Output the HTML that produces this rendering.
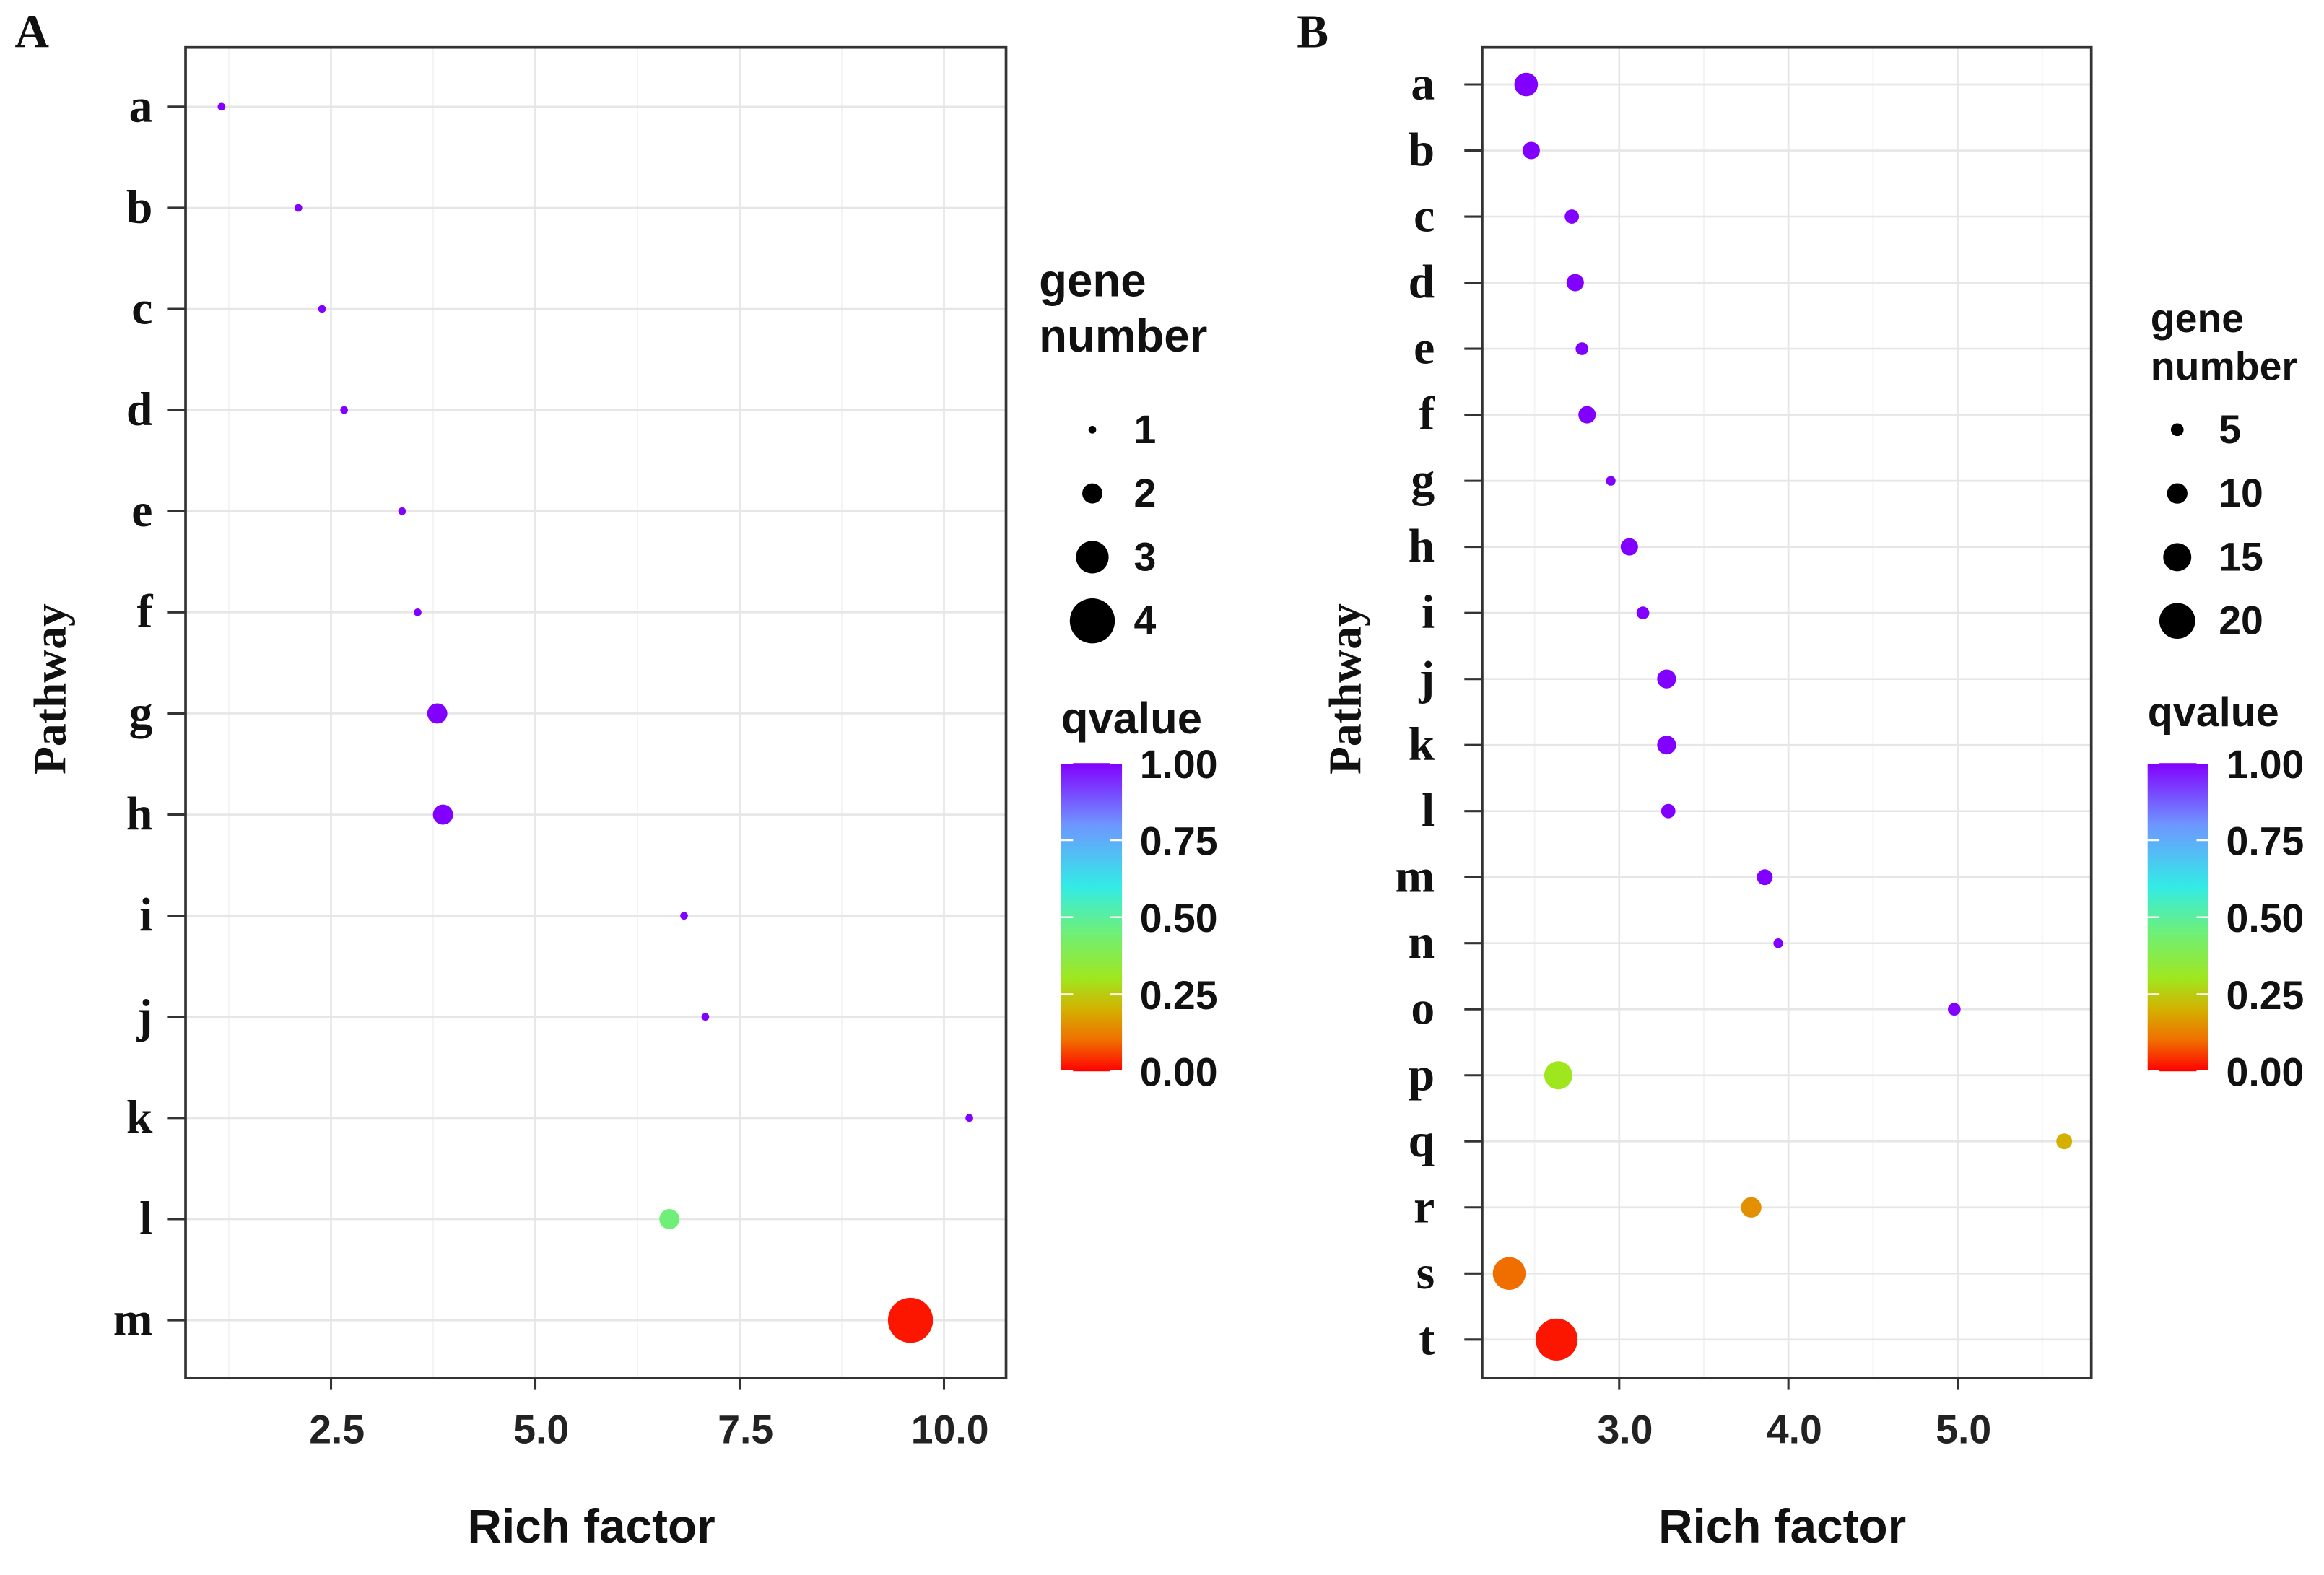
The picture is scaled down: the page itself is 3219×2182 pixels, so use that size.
<!DOCTYPE html>
<html><head><meta charset="utf-8"><style>
html,body{margin:0;padding:0;background:#fff;}
svg{display:block;}
.ser{font-family:"Liberation Serif",serif;font-weight:bold;}
.sans{font-family:"Liberation Sans",sans-serif;font-weight:bold;}
</style></head><body>
<svg id="chart" width="3219" height="2182" viewBox="0 0 1568 1062.9" preserveAspectRatio="none" xmlns="http://www.w3.org/2000/svg"></svg>
<script>
// Panel A data
const catsA = ['a','b','c','d','e','f','g','h','i','j','k','l','m'];
const richA = [1.16,2.10,2.39,2.66,3.37,3.56,3.80,3.87,6.82,7.08,10.31,6.64,9.59];
const geneA = [1,1,1,1,1,1,2,2,1,1,1,2,4];
const qA = [1,1,1,1,1,1,1,1,1,1,1,0.45,0.02];
const ticksA = [2.5,5.0,7.5,10.0];
const tickLabelsA = ['2.5','5.0','7.5','10.0'];
const legendSizesA = [1,2,3,4];
// Panel B data
const catsB = ['a','b','c','d','e','f','g','h','i','j','k','l','m','n','o','p','q','r','s','t'];
const richB = [2.45,2.48,2.72,2.74,2.78,2.81,2.95,3.06,3.14,3.28,3.28,3.29,3.86,3.94,4.98,2.64,5.63,3.78,2.35,2.63];
const geneB = [12,8,6,8,5,8,3,8,5,9,9,6,7,3,5,15,7,10,18,24];
const qB = [1,1,1,1,1,1,1,1,1,1,1,1,1,1,1,0.3,0.2,0.15,0.1,0.02];
const ticksB = [3.0,4.0,5.0];
const tickLabelsB = ['3.0','4.0','5.0'];
const legendSizesB = [5,10,15,20];
const qTicks = [1.00,0.75,0.50,0.25,0.00];
const qTickLabels = ['1.00','0.75','0.50','0.25','0.00'];

const svg = document.getElementById('chart');
const NS = 'http://www.w3.org/2000/svg';
function mk(tag, attrs, parent){
  const e = document.createElementNS(NS, tag);
  for (const k in attrs) e.setAttribute(k, attrs[k]);
  (parent||svg).appendChild(e);
  return e;
}
const cStops = [[0,[255,0,0]],[0.1,[240,110,0]],[0.2,[212,176,0]],[0.3,[160,230,30]],[0.45,[110,240,120]],[0.6,[50,235,230]],[0.8,[110,150,255]],[1,[130,0,255]]];
function qcolor(q){
  for (let i=1;i<cStops.length;i++){
    if (q <= cStops[i][0]){
      const [a0,c0] = cStops[i-1], [a1,c1] = cStops[i];
      const t = (q-a0)/(a1-a0);
      const c = c0.map((v,k)=>Math.round(v+(c1[k]-v)*t));
      return 'rgb(' + c.join(',') + ')';
    }
  }
  return 'rgb(130,0,255)';
}

const defs = mk('defs', {});
const grad = mk('linearGradient', {id:'qgrad', x1:0, y1:1, x2:0, y2:0}, defs);
for (let i=0;i<=40;i++){ mk('stop',{offset:(i/40), 'stop-color':qcolor(i/40)}, grad); }

function panel(cfg){
  const {name, cats, rich, gene, q, ticks, tickLabels, minor, L, R, T, B, xmin, xmax, y0, y1, rFn, labRight, letter, letterX, pathX, leg} = cfg;
  const g = mk('g', {});
  
  
  const xs = v => L + (v - xmin) / (xmax - xmin) * (R - L);
  const ys = i => y0 + i * (y1 - y0) / (cats.length - 1);
  mk('rect', {x:L, y:T, width:R-L, height:B-T, fill:'#fff'}, g);
  minor.forEach(v => {
    const l = mk('line', {x1:xs(v), x2:xs(v), y1:T, y2:B, stroke:'#f4f4f4', 'stroke-width':1}, g);
    
    
  });
  ticks.forEach(v => {
    const l = mk('line', {x1:xs(v), x2:xs(v), y1:T, y2:B, stroke:'#e6e6e6', 'stroke-width':1.3}, g);
    
    
  });
  cats.forEach((c,i) => {
    const l = mk('line', {x1:L, x2:R, y1:ys(i), y2:ys(i), stroke:'#e6e6e6', 'stroke-width':1.3}, g);
    
    
    const t = mk('line', {x1:L-12, x2:L, y1:ys(i), y2:ys(i), stroke:'#333', 'stroke-width':1.5}, g);
    
    
    const tx = mk('text', {x:labRight, y:ys(i)+10, 'text-anchor':'end', 'font-size':32, class:'ser', fill:'#111'}, g);
    tx.textContent = c;
    
    
  });
  ticks.forEach((v,i) => {
    const t = mk('line', {x1:xs(v), x2:xs(v), y1:B, y2:B+8, stroke:'#333', 'stroke-width':1.5}, g);
    
    
    const tx = mk('text', {x:xs(v)+4, y:B+44, 'text-anchor':'middle', 'font-size':27, class:'sans', fill:'#222'}, g);
    tx.textContent = tickLabels[i];
    
    
  });
  cats.forEach((c,i) => {
    const p = mk('circle', {cx:xs(rich[i]), cy:ys(i), r:rFn(gene[i]), fill:qcolor(q[i])}, g);
    
    
  });
  const fr = mk('rect', {x:L, y:T, width:R-L, height:B-T, fill:'none', stroke:'#333', 'stroke-width':1.8}, g);
  
  
  const xt = mk('text', {x:(L+R)/2-3, y:1041, 'text-anchor':'middle', 'font-size':32, class:'sans', fill:'#111'}, g);
  xt.textContent = 'Rich factor';
  
  
  const yt = mk('text', {x:0, y:0, 'text-anchor':'middle', 'font-size':31, class:'ser', fill:'#111', transform:'translate(' + pathX + ',465) rotate(-90)'}, g);
  yt.textContent = 'Pathway';
  
  
  const lt = mk('text', {x:letterX, y:32, 'font-size':32, class:'ser', fill:'#111'}, g);
  lt.textContent = letter;
  
  
  const lg = mk('g', {}, g);
  
  
  const h1 = mk('text', {x:leg.gx, y:leg.gy, 'font-size':leg.gf, class:'sans', fill:'#111'}, lg);
  h1.textContent = 'gene';
  
  
  const h2 = mk('text', {x:leg.gx, y:leg.gy+leg.gf*1.2, 'font-size':leg.gf, class:'sans', fill:'#111'}, lg);
  h2.textContent = 'number';
  
  
  leg.sizes.forEach((s,i) => {
    const y = 290 + i*43;
    const c = mk('circle', {cx:leg.dx, cy:y, r:rFn(s), fill:'#000'}, lg);
    
    
    const t = mk('text', {x:leg.dx+28, y:y+9, 'font-size':27, class:'sans', fill:'#111'}, lg);
    t.textContent = s;
    
    
  });
  const qt = mk('text', {x:leg.bx, y:leg.qy, 'font-size':leg.qf, class:'sans', fill:'#111'}, lg);
  qt.textContent = 'qvalue';
  
  
  const bT = 515, bB = 723;
  const bar = mk('rect', {x:leg.bx, y:bT, width:41, height:bB-bT, fill:'url(#qgrad)'}, lg);
  
  
  qTicks.forEach((v,i) => {
    const y = bB - v*(bB-bT);
    mk('line', {x1:leg.bx, x2:leg.bx+8, y1:y, y2:y, stroke:'#fff', 'stroke-width':1.2}, lg);
    mk('line', {x1:leg.bx+33, x2:leg.bx+41, y1:y, y2:y, stroke:'#fff', 'stroke-width':1.2}, lg);
    const t = mk('text', {x:leg.bx+53, y:y+10, 'font-size':27, class:'sans', fill:'#111'}, lg);
    t.textContent = qTickLabels[i];
    
    
  });
}

panel({name:'panel-a', cats:catsA, rich:richA, gene:geneA, q:qA, ticks:ticksA, tickLabels:tickLabelsA,
  minor:[1.25,3.75,6.25,8.75], L:125.2, R:678.8, T:32, B:930, xmin:0.72, xmax:10.76, y0:72, y1:891,
  rFn:n => 2.6 + 4.2*(n-1), labRight:103, letter:'A', letterX:10, pathX:44,
  leg:{gx:701, gy:200, gf:31, dx:737, sizes:legendSizesA, bx:716, qy:495, qf:30}});
panel({name:'panel-b', cats:catsB, rich:richB, gene:geneB, q:qB, ticks:ticksB, tickLabels:tickLabelsB,
  minor:[2.5,3.5,4.5,5.5], L:1000, R:1411, T:32, B:930, xmin:2.19, xmax:5.79, y0:57, y1:904,
  rFn:n => 1.7 + 0.52*n, labRight:968, letter:'B', letterX:875, pathX:918,
  leg:{gx:1451, gy:224, gf:27, dx:1469, sizes:legendSizesB, bx:1449, qy:490, qf:28}});
</script>
</body></html>
